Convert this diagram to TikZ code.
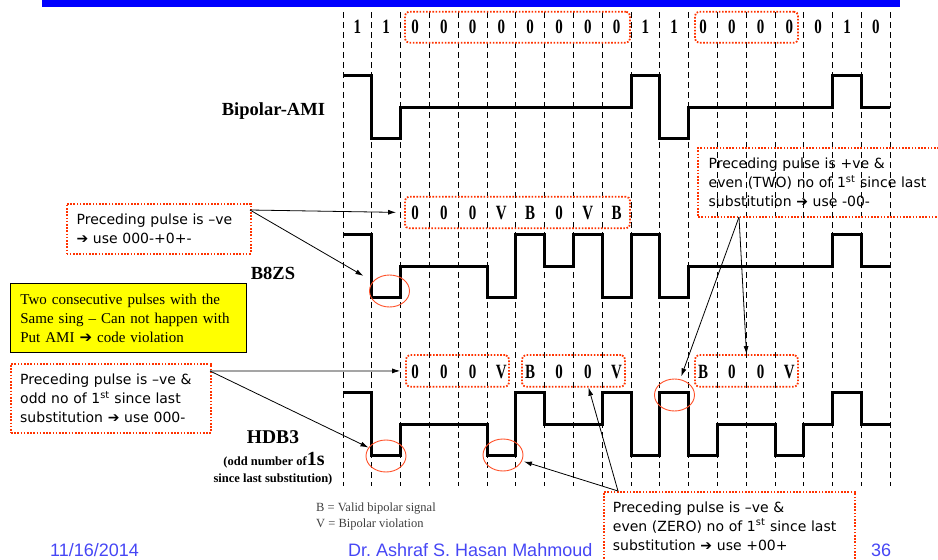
\documentclass[tikz,border=0pt]{standalone}
\usepackage{graphicx}
\usepackage{fontspec}
\setmainfont{Liberation Serif}
\newfontfamily\callfont{DejaVu Sans}
\newfontfamily\footfont{Liberation Sans}
\usetikzlibrary{shapes.geometric,arrows.meta}

\definecolor{dotred}{RGB}{255,51,0}
\definecolor{ringred}{RGB}{255,80,40}
\definecolor{slideblue}{RGB}{0,0,255}
\definecolor{footblue}{RGB}{70,70,245}
\definecolor{notefill}{RGB}{255,255,0}

\newcommand{\tallbit}[1]{\scalebox{1}[1.35]{#1}}

\begin{document}
\begin{tikzpicture}[x=1pt, y=-1pt, >={Latex[length=8pt,width=5pt]},
    gridline/.style={dash pattern=on 6pt off 4pt, line width=0.9pt},
    wave/.style={line width=3pt, line join=miter},
    bitlbl/.style={font=\fontsize{15}{15}\selectfont\bfseries, inner sep=0pt},
    lblbox/.style={draw=dotred, line width=1.8pt, dash pattern=on 1.6pt off 1.6pt, rounded corners=4pt, inner sep=0pt},
    ring/.style={ellipse, draw=ringred, line width=0.9pt, minimum width=40pt, minimum height=32pt, inner sep=0pt},
    callout/.style={draw=dotred, line width=1.8pt, dash pattern=on 1.6pt off 1.6pt, align=left, inner xsep=10pt, inner ysep=0pt, font=\callfont\fontsize{14}{19}\selectfont, anchor=north west},
    signame/.style={font=\fontsize{18.5}{20}\selectfont\bfseries, anchor=base, inner sep=0pt},
    smallnote/.style={font=\fontsize{12.5}{14}\selectfont, anchor=base west, inner sep=0pt, text=black!75},
    footer/.style={font=\footfont\fontsize{18}{18}\selectfont, text=footblue, anchor=base west, inner sep=0pt},
    pointer/.style={->, line width=0.8pt}
]
    \useasboundingbox (0,0) rectangle (938,560);
    \clip (0,0) rectangle (938,560);
    \fill[slideblue] (42,0) rectangle (900,7);

    \foreach \k in {0,...,19}
        \draw[gridline] ({343+28.8*\k},12) -- ({343+28.8*\k},486);

    \foreach \b [count=\k from 0] in {1,1,0,0,0,0,0,0,0,0,1,1,0,0,0,0,0,1,0}
        \node[bitlbl] (d\k) at ({357.4+28.8*\k},27) {\tallbit{\b}};

    \foreach \y/\lv in {107/{1,-1,0,0,0,0,0,0,0,0,1,-1,0,0,0,0,0,1,0},
                        266/{1,-1,0,0,0,-1,1,0,1,-1,1,-1,0,0,0,0,0,1,0},
                        424/{1,-1,0,0,0,-1,1,0,0,1,-1,1,-1,0,0,-1,0,1,0}}
        \draw[wave] (343,{\y-31.5}) \foreach \v [count=\k from 0] in \lv
            { -- ({343+28.8*\k},{\y-31.5*\v}) -- ({343+28.8*(\k+1)},{\y-31.5*\v}) };

    \node[signame] (ami) at (273.4,115.2) {Bipolar-AMI};
    \node[signame] (b8zs) at (273,279.2) {B8ZS};
    \node[signame, font=\fontsize{19.5}{20}\selectfont\bfseries] (hdb3) at (273,443.8) {HDB3};
    \node[font=\fontsize{12.5}{14}\selectfont\bfseries, anchor=base, inner sep=0pt] (hdbn1) at (274,465.5) {(odd number of{\fontsize{20}{20}\selectfont 1s}};
    \node[font=\fontsize{12.5}{14}\selectfont\bfseries, anchor=base, inner sep=0pt] (hdbn2) at (273,482.5) {since last substitution)};

    \node[lblbox, minimum width=225pt, minimum height=31pt] (topA) at (517.5,27.2) {};
    \node[lblbox, minimum width=103pt, minimum height=31pt] (topB) at (746.5,27.2) {};
    \node[lblbox, minimum width=225pt, minimum height=31.6pt] (sb8) at (517.5,212.5) {};
    \node[lblbox, minimum width=103pt, minimum height=31.7pt] (h1) at (457.5,370.9) {};
    \node[lblbox, minimum width=103pt, minimum height=31.7pt] (h2) at (573.5,370.9) {};
    \node[lblbox, minimum width=103pt, minimum height=31.7pt] (h3) at (746.5,370.9) {};

    \foreach \b [count=\k from 2] in {0,0,0,V,B,0,V,B}
        \node[bitlbl] (s\k) at ({357.4+28.8*\k},213) {\tallbit{\b}};
    \foreach \b [count=\k from 2] in {0,0,0,V,B,0,0,V}
        \node[bitlbl] (p\k) at ({357.4+28.8*\k},372) {\tallbit{\b}};
    \foreach \b [count=\k from 12] in {B,0,0,V}
        \node[bitlbl] (q\k) at ({357.4+28.8*\k},372) {\tallbit{\b}};

    \node[ring] (rb) at (389.5,291) {};
    \node[ring] (rh1) at (386,456) {};
    \node[ring] (rh2) at (503,455) {};
    \node[ring] (rh3) at (674.5,395) {};

    \node[callout, fill=white, minimum width=184pt, minimum height=50pt, text width=164pt] (cb8) at (65.7,202.7)
        {Preceding pulse is –ve\\➔ use 000-+0+-};
    \node[draw, fill=notefill, line width=0.8pt, anchor=north west, minimum width=235.7pt, minimum height=68.4pt,
          text width=215.7pt, inner xsep=10pt, inner ysep=0pt, align=left, font=\fontsize{15}{19}\selectfont] (note) at (10,283.3)
        {Two consecutive pulses with the\\Same sing – Can not happen with\\Put AMI {\callfont ➔} code violation};
    \node[callout, fill=white, minimum width=200pt, minimum height=69pt, text width=181.4pt, inner xsep=9.3pt] (chdb) at (10,362.7)
        {Preceding pulse is –ve \&\\odd no of 1\textsuperscript{st} since last\\substitution ➔ use 000-};
    \node[callout, minimum width=260pt, minimum height=69.3pt, text width=239pt, inner xsep=10.4pt] (cpos) at (697.3,146.7)
        {Preceding pulse is +ve \&\\even (TWO) no of 1\textsuperscript{st} since last\\substitution ➔ use -00-};

    \node[smallnote] (legB) at (316,511.5) {B = Valid bipolar signal};
    \node[smallnote] (legV) at (316,527) {V = Bipolar violation};

    \node[footer] (date) at (50,556.5) {11/16/2014};
    \node[footer] (author) at (348,556.5) {Dr.\ Ashraf S.\ Hasan Mahmoud};
    \node[footer] (page) at (871,556.5) {36};

    \node[callout, fill=white, minimum width=251.3pt, minimum height=68.8pt, text width=233.3pt, inner xsep=9pt] (czero) at (603,490.7)
        {Preceding pulse is –ve \&\\even (ZERO) no of 1\textsuperscript{st} since last\\substitution ➔ use +00+};

    \coordinate (o1) at (250,210);
    \coordinate (o3) at (210,371);
    \coordinate (o4) at (739,217);
    \coordinate (o5) at (618,491);

    \draw[pointer, shorten >=8pt] (o1) -- (sb8.west);
    \draw[pointer, shorten >=11pt] (o1) -- (rb);
    \draw[pointer, shorten >=5pt] (o3) -- (h1.west);
    \draw[pointer] (o3) -- (rh1);
    \draw[pointer, shorten >=3pt] (o4) -- (rh3);
    \draw[pointer] (o4) -- (h3.north);
    \draw[pointer, shorten >=2pt] (o5) -- (rh2);
    \draw[pointer] (o5) -- (h2.-48);
\end{tikzpicture}
\end{document}
